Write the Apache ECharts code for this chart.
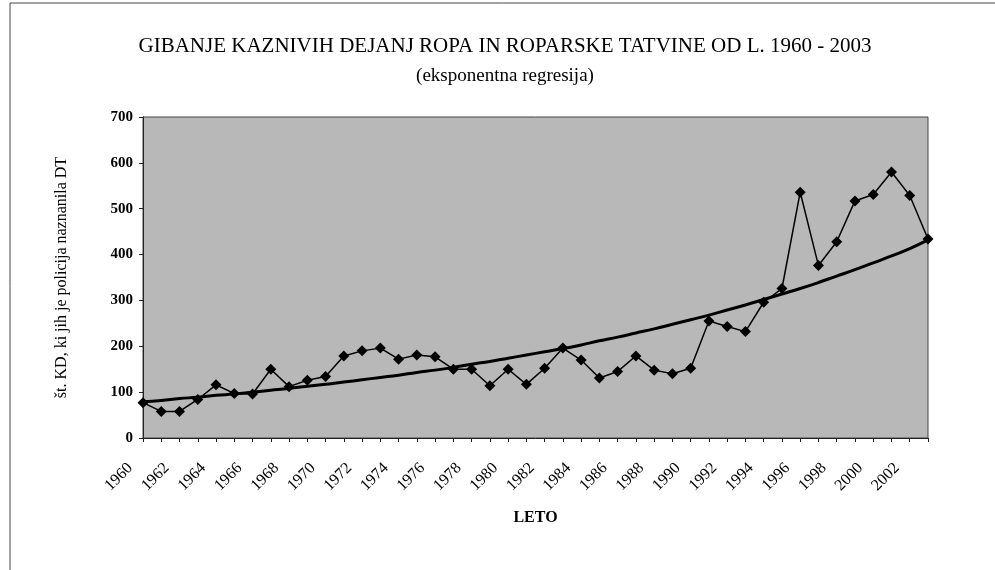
<!DOCTYPE html>
<html><head><meta charset="utf-8">
<script src="https://cdn.jsdelivr.net/npm/echarts@6/dist/echarts.min.js"></script>
<style>html,body{margin:0;padding:0;background:#fff}#c{width:995px;height:570px}</style>
</head><body><div id="c"></div>
<script>
const years = ['1960','1961','1962','1963','1964','1965','1966','1967','1968','1969','1970','1971','1972','1973','1974','1975','1976','1977','1978','1979','1980','1981','1982','1983','1984','1985','1986','1987','1988','1989','1990','1991','1992','1993','1994','1995','1996','1997','1998','1999','2000','2001','2002','2003'];
const cases = [77,58,58,84,116,97,96,150,112,126,134,179,190,196,172,181,177,150,150,114,150,117,152,196,170,131,145,179,148,140,152,255,243,232,296,326,536,376,428,517,531,580,529,434];
const trend = [79,82,86,89,93,96,100,104,108,113,117,122,127,132,137,143,148,154,161,167,174,181,188,195,203,212,220,229,238,248,258,268,279,290,302,314,326,339,353,367,382,397,413,432];
const yTicks = [0,100,200,300,400,500,600,700];

const chart = echarts.init(document.getElementById('c'));
const serif = '"Liberation Serif", "Times New Roman", serif';
chart.setOption({
  animation: false,
  backgroundColor: '#ffffff',
  textStyle: { fontFamily: serif, color: '#000' },
  title: {
    text: 'GIBANJE KAZNIVIH DEJANJ ROPA IN ROPARSKE TATVINE OD L. 1960 - 2003',
    subtext: '(eksponentna regresija)',
    left: 500, textAlign: 'center', top: 31,
    itemGap: 10,
    textStyle: { fontFamily: serif, fontSize: 21, fontWeight: 'normal', color: '#000' },
    subtextStyle: { fontFamily: serif, fontSize: 19, color: '#000' }
  },
  graphic: [
    { type: 'line', shape: { x1: 10, y1: 3, x2: 10, y2: 570 }, style: { stroke: '#444', lineWidth: 1 } },
    { type: 'line', shape: { x1: 10, y1: 3, x2: 995, y2: 3 }, style: { stroke: '#444', lineWidth: 1 } }
  ],
  grid: { left: 143, right: 67, top: 117, bottom: 132, show: true, backgroundColor: '#b8b8b8', borderColor: '#444', borderWidth: 1 },
  xAxis: {
    type: 'category', data: years, boundaryGap: false,
    name: 'LETO', nameLocation: 'middle', nameGap: 72, nameMoveOverlap: false,
    nameTextStyle: { fontFamily: serif, fontSize: 16, fontWeight: 'bold', color: '#000' },
    axisLine: { lineStyle: { color: '#222' } },
    axisTick: { interval: 0, length: 4, lineStyle: { color: '#222' } },
    axisLabel: { interval: 1, rotate: 45, fontFamily: serif, fontSize: 16, color: '#000', margin: 15, padding: [0, 18, 0, 0] },
    splitLine: { show: false }
  },
  yAxis: {
    type: 'value', min: 0, max: 700, interval: 100,
    name: 'št. KD, ki jih je policija naznanila DT', nameLocation: 'middle', nameGap: 73, nameRotate: 90,
    nameTextStyle: { fontFamily: serif, fontSize: 16, color: '#000' },
    axisLine: { show: true, lineStyle: { color: '#222' } },
    axisTick: { show: true, length: 4, lineStyle: { color: '#222' } },
    axisLabel: { fontFamily: serif, fontSize: 15, fontWeight: 'bold', color: '#000', margin: 10,
      formatter: v => yTicks.includes(v) ? String(v) : '' },
    splitLine: { show: false }
  },
  series: [
    { name: 'trend', type: 'line', data: trend, showSymbol: false, symbol: 'none', smooth: true,
      lineStyle: { color: '#000', width: 3 }, z: 2 },
    { name: 'KD', type: 'line', data: cases, symbol: 'diamond', symbolSize: 11,
      itemStyle: { color: '#000' }, lineStyle: { color: '#000', width: 1.5 }, z: 3 }
  ]
});
</script></body></html>
